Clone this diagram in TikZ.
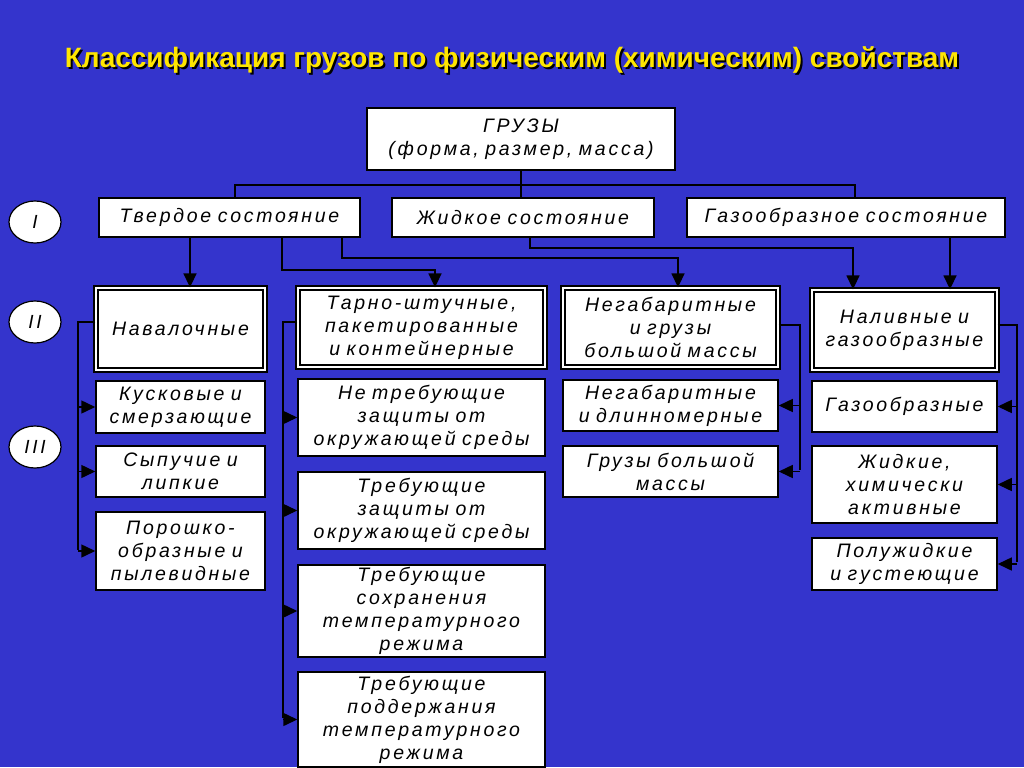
\documentclass[tikz,border=0pt]{standalone}
\usepackage{fontspec}
\setmainfont{Liberation Sans}[LetterSpace=14]
\newfontfamily\titlefont{Liberation Sans}
\usetikzlibrary{arrows.meta,calc,shapes.geometric}
\definecolor{bg}{RGB}{52,52,204}
\definecolor{ttl}{RGB}{255,230,0}
\newcommand{\bx}[6][cell]{%
  \node[#1, minimum width={(#4-#2)*1pt}, minimum height={(#5-#3)*1pt},
        text width={(#4-#2-4)*1pt}] (#6) at ({(#2+#4)/2},{(#3+#5)/2})}
\begin{document}
\begin{tikzpicture}[x=1pt,y=-1pt,
    cell/.style={draw=black, fill=white, line width=1.5pt, align=center,
      inner sep=0pt, font=\fontsize{19.5}{23}\selectfont\itshape},
    dcell/.style={cell, double=white, double distance=2.5pt, line width=1.3pt},
    num/.style={draw=black, fill=white, ellipse, line width=1.2pt,
      minimum width=52pt, minimum height=42pt, font=\fontsize{19}{22}\selectfont\itshape},
    ln/.style={draw=black, line width=1.5pt},
    arr/.style={ln, -{Triangle[length=14pt,width=13pt]}},
    ttlfont/.style={font=\titlefont\bfseries\fontsize{28}{32}\selectfont}
  ]
\fill[bg] (0,0) rectangle (1024,767);
\node[ttlfont, text=black] (titleshadow) at (514,62)
  {Классификация грузов по физическим (химическим) свойствам};
\node[ttlfont, text=ttl] (title) at (512,60)
  {Классификация грузов по физическим (химическим) свойствам};

% level numbers
\node[num] (n1) at (35,222) {I};
\node[num] (n2) at (35,322) {II};
\node[num] (n3) at (35,447) {III};

% top
\bx{367}{108}{675}{170}{gr} {ГРУЗЫ\\(форма, размер, масса)};
\bx{99}{198}{360}{237}{tv} {Твердое состояние};
\bx{392}{198}{654}{237}{zh} {Жидкое состояние};
\bx{687}{198}{1005}{237}{gz} {Газообразное состояние};

% level II
\bx[dcell]{96}{288}{265}{370}{nav} {Навалочные};
\bx[dcell]{298}{288}{545}{367}{tar} {Тарно-штучные, пакетированные и контейнерные};
\bx[dcell]{563}{288}{778}{367}{neg} {Негабаритные и грузы большой массы};
\bx[dcell]{812}{290}{997}{370}{nal} {Наливные и газообразные};

% level III
\bx{96}{381}{265}{433}{ku} {Кусковые и смерзающие};
\bx{96}{446}{265}{497}{sy} {Сыпучие и\\липкие};
\bx{96}{512}{265}{590}{po} {Порошко-\\образные и пылевидные};
\bx{298}{379}{545}{456}{t1} {Не требующие защиты от окружающей среды};
\bx{298}{472}{545}{549}{t2} {Требующие защиты от окружающей среды};
\bx{298}{565}{545}{657}{t3} {Требующие сохранения температурного режима};
\bx{298}{672}{545}{767}{t4} {Требующие поддержания температурного режима};
\bx{563}{380}{778}{431}{g1} {Негабаритные и длинномерные};
\bx{563}{446}{778}{497}{g2} {Грузы большой массы};
\bx{812}{381}{997}{432}{h1} {Газообразные};
\bx{812}{446}{997}{523}{h2} {Жидкие,\\химически активные};
\bx{812}{538}{997}{590}{h3} {Полужидкие и густеющие};

% top connectors
\draw[ln] (gr.south) -- (gr.south |- zh.north);
\draw[ln] (235,0 |- tv.north) |- (530,185) -| (855,0 |- gz.north);
% from solid state
\draw[arr] (tv.south -| 190,0) -- (nav.north -| 190,0);
\draw[arr] (tv.south -| 282,0) |- (435,270) -- (tar.north -| 435,0);
\draw[arr] (tv.south -| 342,0) |- (678,258) -- (neg.north -| 678,0);
\draw[arr] (zh.south -| 530,0) |- (853,248) -- (nal.north -| 853,0);
\draw[arr] (gz.south -| 950,0) -- (nal.north -| 950,0);

% brackets
\draw[ln] (nav.west |- 0,322) -| (78,550);
\foreach \b in {ku,sy,po} \draw[arr] (78,0 |- \b.west) -- (\b.west);
\draw[ln] (tar.west |- 0,322) -| (283,718);
\foreach \b in {t1,t2,t3,t4} \draw[arr] (283,0 |- \b.west) -- (\b.west);
\draw[ln] (neg.east |- 0,325) -| (800,470);
\foreach \b in {g1,g2} \draw[arr] (800,0 |- \b.east) -- (\b.east);
\draw[ln] (nal.east |- 0,325) -| (1017,562);
\foreach \b in {h1,h2,h3} \draw[arr] (1017,0 |- \b.east) -- (\b.east);
\end{tikzpicture}
\end{document}
